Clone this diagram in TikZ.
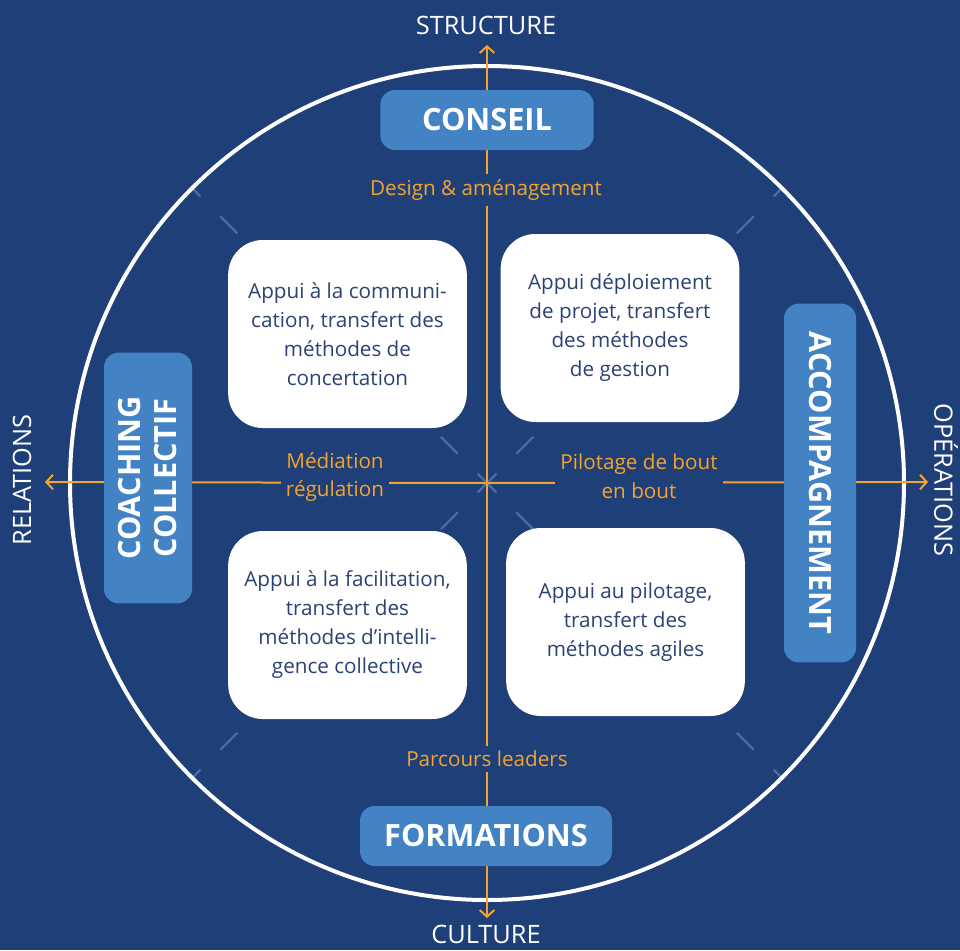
\documentclass[tikz,border=0pt]{standalone}
\usepackage{fontspec}
\setmainfont{Open Sans}
\usetikzlibrary{arrows.meta}

\definecolor{navy}{HTML}{1F3F78}
\definecolor{midblue}{HTML}{4383C4}
\definecolor{gold}{HTML}{F5A32A}
\definecolor{dashblue}{HTML}{4A6DA8}
\definecolor{inkblue}{HTML}{2B4274}

\def\ringrad{312.75pt}

\begin{document}
\begin{tikzpicture}[x=0.75pt,y=-0.75pt,>={Straight Barb[length=5pt,width=11pt]}]
    \tikzstyle{pillar}=[fill=midblue, rounded corners=11pt, text=white, font=\bfseries\fontsize{23}{27}\selectfont, align=center, inner sep=0pt]
    \tikzstyle{service}=[fill=white, rounded corners=26pt, text=inkblue, font=\fontsize{15.5}{21.75}\selectfont, align=center, inner sep=0pt, minimum width=179pt, minimum height=141pt]
    \tikzstyle{pole}=[text=white, font=\fontsize{19}{22}\selectfont, inner sep=0pt]
    \tikzstyle{link}=[fill=navy, text=gold, font=\fontsize{15.5}{21.5}\selectfont, align=center, inner sep=4pt]
    \tikzstyle{axis}=[gold, line width=1.5pt]

    \fill[navy] (0,0) rectangle (960,950);
    \coordinate (C) at (487,483);

    % diagonals
    \foreach \ang in {45,135,225,315}
        \draw[dashblue, line width=1.6pt, dash pattern=on 18pt off 21pt, dash phase=8pt] (C) -- ++(\ang:417);

    \draw[white, line width=3pt] (C) circle[radius=\ringrad];

    % axes
    \coordinate (up) at (487,45);
    \coordinate (down) at (487,918);
    \coordinate (left) at (45,482);
    \coordinate (right) at (928,482);
    \foreach \dest in {up,down,left,right}
        \draw[axis,->] (C) -- (\dest);

    \node[pole] (structure) at (486,25) {STRUCTURE};
    \node[pole] (culture) at (486,934) {CULTURE};
    \node[pole, rotate=90] (relations) at (22,480) {RELATIONS};
    \node[pole, rotate=-90] (operations) at (946,480) {OPÉRATIONS};

    \node[link] (design) at (486,190) {Design \& aménagement};
    \node[link] (mediation) at (335,477) {Médiation\\régulation};
    \node[link] (pilotage) at (639,476) {Pilotage de bout\\en bout};
    \node[link] (parcours) at (487,759) {Parcours leaders};

    \node[pillar, minimum width=160pt, minimum height=45pt] (conseil) at (487,120) {CONSEIL};
    \node[pillar, minimum width=189pt, minimum height=45pt] (formations) at (486,836) {FORMATIONS};
    \node[pillar, rotate=90, minimum width=188pt, minimum height=66pt] (coaching) at (148,478) {COACHING\\COLLECTIF};
    \node[pillar, rotate=-90, minimum width=269pt, minimum height=54pt] (accomp) at (820,483) {ACCOMPAGNEMENT};

    \node[service] (comm) at (347.5,334) {Appui à la communi-\\cation, transfert des\\méthodes de\\concertation};
    \node[service] (projet) at (620,328) {Appui déploiement\\de projet, transfert\\des méthodes\\de gestion};
    \node[service] (facil) at (347.5,625) {Appui à la facilitation,\\transfert des\\méthodes d’intelli-\\gence collective};
    \node[service] (agile) at (625.5,622) {Appui au pilotage,\\transfert des\\méthodes agiles};
\end{tikzpicture}
\end{document}
